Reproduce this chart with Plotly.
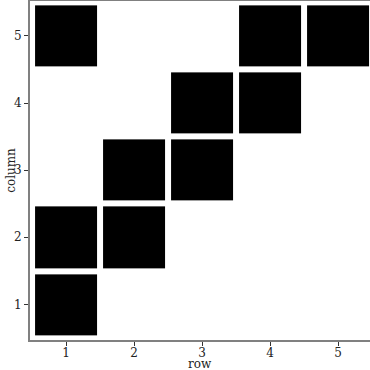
import plotly.graph_objects as go

rows = [1, 2, 3, 4, 5]
columns = [1, 2, 3, 4, 5]
# z[column_index][row_index]: 1 = filled cell
col1 = [1, 0, 0, 0, 0]
col2 = [1, 1, 0, 0, 0]
col3 = [0, 1, 1, 0, 0]
col4 = [0, 0, 1, 1, 0]
col5 = [1, 0, 0, 1, 1]
z = [col1, col2, col3, col4, col5]
x_title = "row"
y_title = "column"

fig = go.Figure(go.Heatmap(
    x=rows, y=columns, z=z,
    zmin=0, zmax=1,
    colorscale=[[0, "white"], [1, "black"]],
    showscale=False, xgap=6, ygap=6, hoverinfo="skip",
))

serif = "DejaVu Serif"
axis_common = dict(
    showline=True, linecolor="#808080", linewidth=2, mirror=True,
    ticks="outside", ticklen=4, tickwidth=1, tickcolor="#333",
    showgrid=False, zeroline=False, tickvals=[1, 2, 3, 4, 5],
    tickfont=dict(family=serif, size=12, color="#222"),
    automargin=False,
)
fig.update_xaxes(range=[0.47, 5.47], ticklabelstandoff=-3, **axis_common)
fig.update_yaxes(range=[0.47, 5.52], **axis_common)

fig.add_annotation(text=x_title, xref="paper", yref="paper", x=0.5, y=-0.071,
                   xanchor="center", yanchor="middle", showarrow=False,
                   borderpad=0,
                   font=dict(family=serif, size=12, color="#222"))
fig.add_annotation(text=y_title, xref="paper", yref="paper", x=-0.058, y=0.5,
                   xanchor="center", yanchor="middle", showarrow=False, textangle=-90,
                   borderpad=0,
                   font=dict(family=serif, size=12, color="#222"))

fig.update_layout(
    width=370, height=370,
    margin=dict(l=30, r=0, t=1, b=30),
    plot_bgcolor="white", paper_bgcolor="white",
    font=dict(family=serif),
)
fig.write_html("out.html")
